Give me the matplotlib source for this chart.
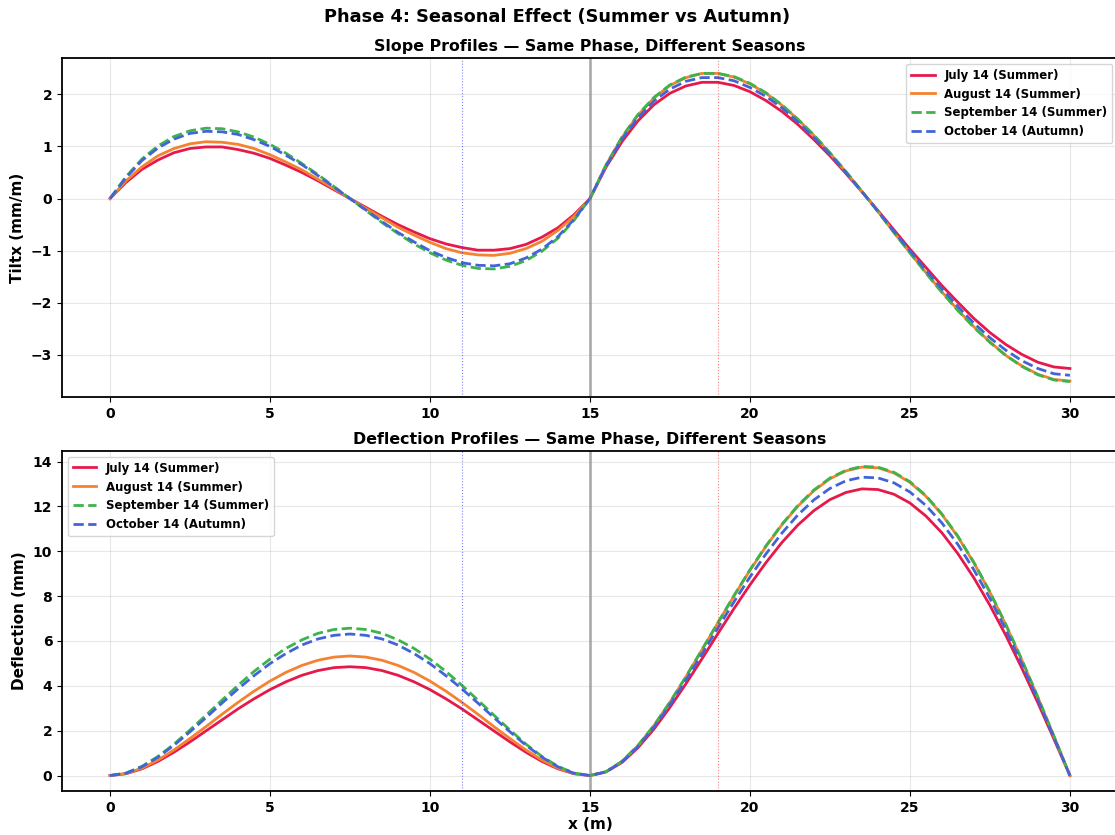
import numpy as np
import matplotlib
matplotlib.use("Agg")
import matplotlib.pyplot as plt

# positions along the beam (m), 0.5 m step
x = np.arange(0, 30.5, 0.5)

labels = ["July 14 (Summer)", "August 14 (Summer)",
          "September 14 (Summer)", "October 14 (Autumn)"]
colors = ["#e6194b", "#f58231", "#3cb44b", "#4363d8"]
styles = ["-", "-", "--", "--"]

# slope profiles (mm/m)
tilt_jul = [0, 0.31, 0.56, 0.74, 0.88, 0.96, 0.99, 0.99, 0.94, 0.87, 0.77, 0.64, 0.50, 0.34, 0.17, 0,
            -0.17, -0.34, -0.50, -0.64, -0.77, -0.87, -0.94, -0.99, -0.99, -0.96, -0.88, -0.74, -0.56, -0.31, 0,
            0.60, 1.09, 1.49, 1.80, 2.02, 2.16, 2.23, 2.23, 2.17, 2.05, 1.88, 1.67, 1.42, 1.13, 0.82,
            0.48, 0.13, -0.23, -0.60, -0.97, -1.32, -1.67, -1.99, -2.30, -2.57, -2.80, -2.99, -3.14, -3.23, -3.26]
tilt_aug = [0, 0.34, 0.61, 0.82, 0.96, 1.05, 1.09, 1.08, 1.04, 0.96, 0.84, 0.70, 0.55, 0.37, 0.19, 0,
            -0.19, -0.37, -0.55, -0.70, -0.84, -0.96, -1.04, -1.08, -1.09, -1.05, -0.96, -0.82, -0.61, -0.34, 0,
            0.64, 1.17, 1.60, 1.93, 2.17, 2.32, 2.40, 2.40, 2.33, 2.20, 2.02, 1.79, 1.52, 1.21, 0.87,
            0.51, 0.14, -0.25, -0.65, -1.04, -1.42, -1.79, -2.14, -2.46, -2.75, -3.01, -3.21, -3.37, -3.47, -3.50]
tilt_sep = [0, 0.42, 0.76, 1.01, 1.19, 1.30, 1.35, 1.34, 1.28, 1.18, 1.04, 0.87, 0.67, 0.46, 0.23, 0,
            -0.23, -0.46, -0.67, -0.87, -1.04, -1.18, -1.28, -1.34, -1.35, -1.30, -1.19, -1.01, -0.76, -0.42, 0,
            0.64, 1.18, 1.61, 1.94, 2.18, 2.33, 2.40, 2.40, 2.34, 2.21, 2.03, 1.80, 1.52, 1.22, 0.88,
            0.52, 0.14, -0.25, -0.65, -1.04, -1.43, -1.80, -2.15, -2.47, -2.76, -3.01, -3.22, -3.38, -3.48, -3.51]
tilt_oct = [0, 0.40, 0.73, 0.97, 1.14, 1.25, 1.29, 1.28, 1.23, 1.13, 1.00, 0.83, 0.65, 0.44, 0.22, 0,
            -0.22, -0.44, -0.65, -0.83, -1.00, -1.13, -1.23, -1.28, -1.29, -1.25, -1.14, -0.97, -0.73, -0.40, 0,
            0.62, 1.14, 1.55, 1.87, 2.10, 2.25, 2.32, 2.32, 2.26, 2.13, 1.96, 1.74, 1.47, 1.17, 0.85,
            0.50, 0.13, -0.24, -0.63, -1.00, -1.38, -1.73, -2.07, -2.39, -2.67, -2.91, -3.11, -3.26, -3.36, -3.39]

# deflection profiles (mm)
defl_jul = [0, 0.08, 0.30, 0.63, 1.04, 1.50, 1.99, 2.48, 2.97, 3.42, 3.83, 4.18, 4.47, 4.68, 4.81, 4.85,
            4.81, 4.68, 4.47, 4.18, 3.83, 3.42, 2.97, 2.48, 1.99, 1.50, 1.04, 0.63, 0.30, 0.08, 0,
            0.16, 0.58, 1.24, 2.07, 3.04, 4.09, 5.20, 6.33, 7.44, 8.50, 9.49, 10.39, 11.17, 11.81, 12.30,
            12.62, 12.78, 12.75, 12.54, 12.15, 11.57, 10.82, 9.89, 8.81, 7.59, 6.24, 4.78, 3.24, 1.63, 0]
defl_aug = [0, 0.09, 0.33, 0.69, 1.14, 1.65, 2.18, 2.73, 3.26, 3.76, 4.21, 4.60, 4.91, 5.14, 5.28, 5.33,
            5.28, 5.14, 4.91, 4.60, 4.21, 3.76, 3.26, 2.73, 2.18, 1.65, 1.14, 0.69, 0.33, 0.09, 0,
            0.17, 0.63, 1.33, 2.23, 3.27, 4.40, 5.60, 6.81, 8.00, 9.15, 10.21, 11.18, 12.01, 12.70, 13.23,
            13.58, 13.75, 13.72, 13.49, 13.07, 12.45, 11.64, 10.64, 9.48, 8.17, 6.71, 5.14, 3.48, 1.76, 0]
defl_sep = [0, 0.11, 0.41, 0.85, 1.40, 2.03, 2.69, 3.36, 4.02, 4.64, 5.19, 5.67, 6.05, 6.34, 6.51, 6.57,
            6.51, 6.34, 6.05, 5.67, 5.19, 4.64, 4.02, 3.36, 2.69, 2.03, 1.40, 0.85, 0.41, 0.11, 0,
            0.17, 0.63, 1.34, 2.23, 3.27, 4.41, 5.61, 6.82, 8.02, 9.17, 10.24, 11.20, 12.04, 12.73, 13.26,
            13.61, 13.78, 13.75, 13.52, 13.10, 12.48, 11.66, 10.67, 9.50, 8.19, 6.73, 5.16, 3.49, 1.76, 0]
defl_oct = [0, 0.10, 0.39, 0.82, 1.35, 1.95, 2.58, 3.23, 3.86, 4.45, 4.99, 5.44, 5.82, 6.09, 6.25, 6.31,
            6.25, 6.09, 5.82, 5.44, 4.99, 4.45, 3.86, 3.23, 2.58, 1.95, 1.35, 0.82, 0.39, 0.10, 0,
            0.16, 0.61, 1.29, 2.16, 3.16, 4.26, 5.41, 6.58, 7.74, 8.85, 9.88, 10.81, 11.62, 12.29, 12.80,
            13.14, 13.30, 13.27, 13.05, 12.64, 12.04, 11.26, 10.30, 9.17, 7.90, 6.49, 4.98, 3.37, 1.70, 0]

tilts = [tilt_jul, tilt_aug, tilt_sep, tilt_oct]
defls = [defl_jul, defl_aug, defl_sep, defl_oct]

plt.rcParams['font.weight'] = 'bold'
plt.rcParams['axes.labelweight'] = 'bold'
plt.rcParams['axes.titleweight'] = 'bold'

fig = plt.figure(figsize=(11.15, 8.35), dpi=100)
ax1 = fig.add_axes([0.0556, 0.5246, 0.947, 0.4059])
ax2 = fig.add_axes([0.0556, 0.0527, 0.947, 0.4072])

for ax, data in [(ax1, tilts), (ax2, defls)]:
    for vals, lab, c, ls in zip(data, labels, colors, styles):
        ax.plot(x, vals, ls, color=c, lw=2, label=lab)
    ax.axvline(15, color='gray', lw=2, alpha=0.6)
    ax.axvline(11, color='blue', lw=0.8, ls=':', alpha=0.5)
    ax.axvline(19, color='red', lw=0.8, ls=':', alpha=0.5)
    ax.grid(True, alpha=0.3)
    ax.tick_params(labelsize=10)
    for sp in ax.spines.values():
        sp.set_linewidth(1.3)

ax1.set_title("Slope Profiles \u2014 Same Phase, Different Seasons", fontsize=11.4, pad=5)
ax1.set_ylabel("Tiltx (mm/m)", fontsize=11)
ax1.legend(loc='upper right', fontsize=8.5)

ax2.set_title("Deflection Profiles \u2014 Same Phase, Different Seasons", fontsize=11.4, pad=5)
ax2.set_ylabel("Deflection (mm)", fontsize=11)
ax2.set_xlabel("x (m)", fontsize=11, labelpad=2)
ax2.legend(loc='upper left', fontsize=8.5)

fig.suptitle("Phase 4: Seasonal Effect (Summer vs Autumn)", fontsize=12.8, fontweight='bold', y=0.99)

fig.savefig("out.png", dpi=100)
